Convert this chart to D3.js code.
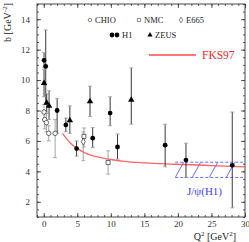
<!DOCTYPE html>
<html>
<head>
<meta charset="utf-8">
<script src="https://cdn.jsdelivr.net/npm/d3@7"></script>
<style>
  body { margin: 0; background: #fff; }
  svg { display: block; font-family: "Liberation Serif", "DejaVu Serif", serif; }
</style>
</head>
<body>
<div id="chart"></div>
<script>
// --- data ---
const chioQ2 = [0.05, 0.15, 0.4, 0.75, 1.7];
const chioB  = [7.9, 7.4, 7.2, 6.5, 6.5];
const chioLo = [7.4, 6.8, 6.6, 6.0, 4.9];
const chioHi = [8.4, 8.0, 7.8, 7.0, 7.4];

const nmcQ2 = [6.0, 9.6];
const nmcB  = [6.3, 4.58];
const nmcLo = [5.6, 3.82];
const nmcHi = [6.85, 5.35];

const e665Q2 = [5.9];
const e665B  = [5.95];
const e665Lo = [4.7];
const e665Hi = [6.6];

const h1Q2 = [0.05, 0.3, 2.0, 3.3, 4.9, 7.3, 9.9, 11.0, 18.1, 21.2, 28.1];
const h1B  = [11.3, 10.9, 8.0, 7.05, 5.5, 6.18, 7.83, 5.6, 5.72, 4.74, 4.4];
const h1Lo = [10.8, 8.5, 6.5, 6.6, 5.0, 5.57, 7.0, 4.8, 4.3, 3.6, 1.6];
const h1Hi = [11.8, 13.3, 8.8, 7.5, 6.0, 6.88, 8.9, 6.45, 7.1, 5.85, 7.9];

const zeusQ2 = [0.05, 0.45, 0.8, 3.9, 6.9, 13.05];
const zeusB  = [9.8, 8.5, 8.3, 7.35, 8.6, 8.7];
const zeusLo = [8.9, 7.9, 7.4, 6.5, 7.6, 7.1];
const zeusHi = [10.7, 9.1, 9.3, 8.3, 9.6, 10.8];

const fksQ2 = [2.8, 3.5, 4, 5, 6, 7, 8, 10, 12, 15, 18, 21, 25, 30];
const fksB  = [6.5, 6.1, 5.85, 5.5, 5.25, 5.07, 4.95, 4.78, 4.66, 4.56, 4.49, 4.45, 4.38, 4.3];

const jpsiQ2 = [19.6, 29.7];
const jpsiBand = [3.6, 4.6];

const xMajor = [0, 5, 10, 15, 20, 25, 30];
const yMajor = [2, 4, 6, 8, 10, 12, 14];

// --- layout ---
const W = 249, H = 242;
const frame = {left: 37, right: 245, top: 4, bottom: 217};

const x = d3.scaleLinear().domain([-1, 30]).range([frame.left, frame.right]);
const y = d3.scaleLinear().domain([1, 15]).range([frame.bottom, frame.top]);

const svg = d3.select("#chart").append("svg")
    .attr("width", W)
    .attr("height", H);

svg.append("rect").attr("width", W).attr("height", H).attr("fill", "#fff");

function zip(q, b, lo, hi) {
    return q.map((d, i) => ({q: d, b: b[i], lo: lo[i], hi: hi[i]}));
}

// frame ticks on all four sides, pointing inward
function styleAxis(g) {
    g.select(".domain").remove();
    g.selectAll("line").attr("stroke", "#333").attr("stroke-width", 0.8);
    g.selectAll("text").attr("fill", "#333").attr("font-size", 9)
        .attr("font-family", "Liberation Serif, serif");
}
const xMinor = d3.range(-1, 30.01, 1);
const yMinor = d3.range(1, 15.01, 0.5);

svg.append("g").attr("transform", `translate(0,${frame.bottom})`)
    .call(d3.axisBottom(x).tickValues(xMinor).tickSize(-2).tickFormat("")).call(styleAxis);
svg.append("g").attr("transform", `translate(0,${frame.bottom})`)
    .call(d3.axisBottom(x).tickValues(xMajor).tickSize(-4).tickPadding(4)).call(styleAxis);
svg.append("g").attr("transform", `translate(0,${frame.top})`)
    .call(d3.axisTop(x).tickValues(xMinor).tickSize(-2).tickFormat("")).call(styleAxis);
svg.append("g").attr("transform", `translate(0,${frame.top})`)
    .call(d3.axisTop(x).tickValues(xMajor).tickSize(-4).tickFormat("")).call(styleAxis);

svg.append("g").attr("transform", `translate(${frame.left},0)`)
    .call(d3.axisLeft(y).tickValues(yMinor).tickSize(-2).tickFormat("")).call(styleAxis);
svg.append("g").attr("transform", `translate(${frame.left},0)`)
    .call(d3.axisLeft(y).tickValues(yMajor).tickSize(-4).tickPadding(7)).call(styleAxis);
svg.append("g").attr("transform", `translate(${frame.right},0)`)
    .call(d3.axisRight(y).tickValues(yMinor).tickSize(-2).tickFormat("")).call(styleAxis);
svg.append("g").attr("transform", `translate(${frame.right},0)`)
    .call(d3.axisRight(y).tickValues(yMajor).tickSize(-4).tickFormat("")).call(styleAxis);

svg.append("rect")
    .attr("x", frame.left).attr("y", frame.top)
    .attr("width", frame.right - frame.left).attr("height", frame.bottom - frame.top)
    .attr("fill", "none").attr("stroke", "#333").attr("stroke-width", 0.9);

const plot = svg.append("g");
svg.append("clipPath").attr("id", "clip").append("rect")
    .attr("x", frame.left).attr("y", frame.top)
    .attr("width", frame.right - frame.left).attr("height", frame.bottom - frame.top);

// J/psi(H1) hatched band
const bandX0 = x(jpsiQ2[0]), bandX1 = x(jpsiQ2[1]);
const bandY0 = y(jpsiBand[1]), bandY1 = y(jpsiBand[0]);
const blue = "#5a5aff";
svg.append("clipPath").attr("id", "bandclip").append("rect")
    .attr("x", bandX0).attr("y", bandY0)
    .attr("width", bandX1 - bandX0).attr("height", bandY1 - bandY0);
const band = plot.append("g").attr("class", "jpsi");
const hatchStep = 17, hatchLean = 8.5;
band.append("g").attr("clip-path", "url(#bandclip)")
    .selectAll("line").data(d3.range(bandX0, bandX1, hatchStep))
    .join("line")
    .attr("x1", d => d).attr("y1", bandY1)
    .attr("x2", d => d + hatchLean).attr("y2", bandY0)
    .attr("stroke", blue).attr("stroke-width", 0.9);
band.selectAll("line.edge").data(jpsiBand)
    .join("line").attr("class", "edge")
    .attr("x1", bandX0).attr("x2", bandX1)
    .attr("y1", d => y(d)).attr("y2", d => y(d))
    .attr("stroke", blue).attr("stroke-width", 0.9)
    .attr("stroke-dasharray", "3,2");

// FKS97 curve
const red = "#ff4a4a";
const line = d3.line().x(d => x(d[0])).y(d => y(d[1])).curve(d3.curveMonotoneX);
plot.append("path")
    .datum(fksQ2.map((d, i) => [d, fksB[i]]))
    .attr("clip-path", "url(#clip)")
    .attr("d", line)
    .attr("fill", "none").attr("stroke", red).attr("stroke-width", 1.3).attr("opacity", 0.85);

// error bars
function errorBars(data, color, tickColor) {
    const g = plot.append("g");
    g.selectAll("line.bar").data(data).join("line").attr("class", "bar")
        .attr("x1", d => x(d.q)).attr("x2", d => x(d.q))
        .attr("y1", d => y(d.lo)).attr("y2", d => y(d.hi))
        .attr("stroke", color).attr("stroke-width", 0.9);
    const ends = data.flatMap(d => [{q: d.q, v: d.lo}, {q: d.q, v: d.hi}]);
    g.selectAll("line.cap").data(ends).join("line").attr("class", "cap")
        .attr("x1", d => x(d.q) - 2).attr("x2", d => x(d.q) + 2)
        .attr("y1", d => y(d.v)).attr("y2", d => y(d.v))
        .attr("stroke", tickColor).attr("stroke-width", 0.8);
}

const chio = zip(chioQ2, chioB, chioLo, chioHi);
const nmc = zip(nmcQ2, nmcB, nmcLo, nmcHi);
const e665 = zip(e665Q2, e665B, e665Lo, e665Hi);
const h1 = zip(h1Q2, h1B, h1Lo, h1Hi);
const zeus = zip(zeusQ2, zeusB, zeusLo, zeusHi);

errorBars(chio, "#999", "#999");
errorBars(nmc, "#999", "#999");
errorBars(e665, "#999", "#999");
errorBars(h1, "#222", "#999");
errorBars(zeus, "#222", "#999");

// markers
const sym = {
    circle: d3.symbol().type(d3.symbolCircle).size(16),
    square: d3.symbol().type(d3.symbolSquare).size(16),
    diamond: d3.symbol().type(d3.symbolDiamond).size(14),
    dot: d3.symbol().type(d3.symbolCircle).size(18),
    triangle: d3.symbol().type(d3.symbolTriangle).size(18)
};
function markers(data, path, filled) {
    plot.append("g").selectAll("path").data(data).join("path")
        .attr("transform", d => `translate(${x(d.q)},${y(d.b)})`)
        .attr("d", path)
        .attr("fill", filled ? "#000" : "#fff")
        .attr("stroke", filled ? "none" : "#444")
        .attr("stroke-width", 0.8);
}
markers(chio, sym.circle, false);
markers(nmc, sym.square, false);
markers(e665, sym.diamond, false);
markers(h1, sym.dot, true);
markers(zeus, sym.triangle, true);

// legend
const legend = svg.append("g").attr("font-size", 8.5).attr("fill", "#222");
function legendItem(px, py, path, filled, label) {
    legend.append("path").attr("transform", `translate(${px},${py})`)
        .attr("d", path)
        .attr("fill", filled ? "#000" : "#fff")
        .attr("stroke", filled ? "none" : "#555").attr("stroke-width", 0.7);
    legend.append("text").attr("x", px + 5).attr("y", py + 3).text(label);
}
legendItem(90, 20, d3.symbol().type(d3.symbolCircle).size(10)(), false, "CHIO");
legendItem(139, 20, d3.symbol().type(d3.symbolSquare).size(10)(), false, "NMC");
legendItem(181, 20, d3.symbol().type(d3.symbolDiamond).size(10)(), false, "E665");
legend.append("path").attr("transform", "translate(112,35)").attr("d", sym.dot()).attr("fill", "#000");
legendItem(117, 35, sym.dot(), true, "H1");
legendItem(150, 35, d3.symbol().type(d3.symbolTriangle).size(12)(), true, "ZEUS");

legend.append("line").attr("x1", 149).attr("x2", 196).attr("y1", 55).attr("y2", 55)
    .attr("stroke", red).attr("stroke-width", 1.3);
svg.append("text").attr("x", 202).attr("y", 59)
    .attr("font-size", 11.5).attr("fill", "#ee2a2a").text("FKS97");

svg.append("text").attr("x", 187).attr("y", 195)
    .attr("font-size", 11).attr("fill", "#3b3bff").text("J/ψ(H1)");

// axis titles
const yTitle = svg.append("text")
    .attr("transform", "translate(10.5,3) rotate(-90)")
    .attr("text-anchor", "end").attr("font-size", 10).attr("fill", "#222");
yTitle.append("tspan").text("b [GeV");
yTitle.append("tspan").attr("font-size", 7).attr("dy", -4).text("-2");
yTitle.append("tspan").attr("dy", 4).text("]");

const xTitle = svg.append("text")
    .attr("x", 236).attr("y", 239.5)
    .attr("text-anchor", "end").attr("font-size", 10).attr("fill", "#222");
xTitle.append("tspan").text("Q");
xTitle.append("tspan").attr("font-size", 7).attr("dy", -4).text("2");
xTitle.append("tspan").attr("dy", 4).text(" [GeV");
xTitle.append("tspan").attr("font-size", 7).attr("dy", -4).text("2");
xTitle.append("tspan").attr("dy", 4).text("]");
</script>
</body>
</html>
